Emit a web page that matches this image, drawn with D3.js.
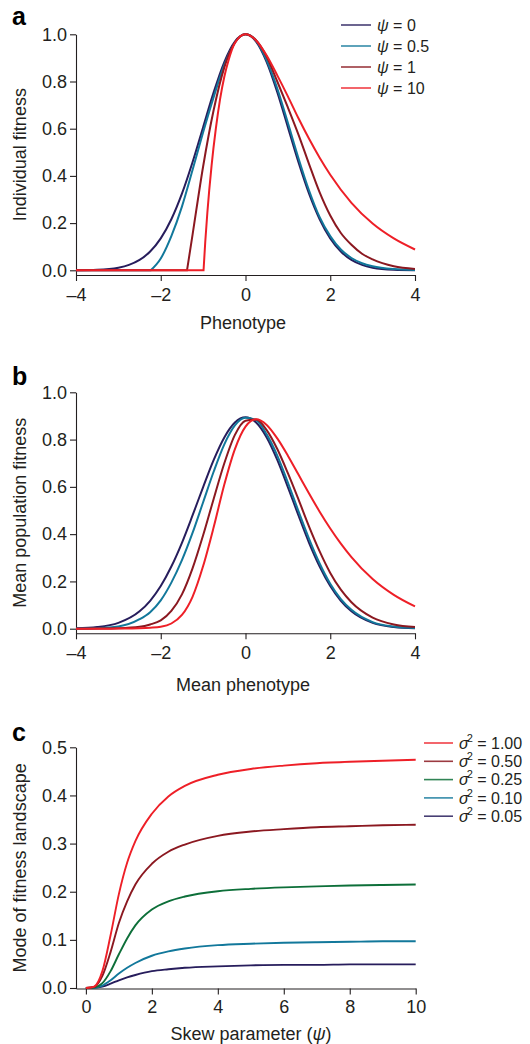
<!DOCTYPE html>
<html>
<head>
<meta charset="utf-8">
<script src="https://cdnjs.cloudflare.com/ajax/libs/d3/7.8.5/d3.min.js"></script>
<style>
  body { margin: 0; background: #fff; }
  svg { font-family: "Liberation Sans", Arial, sans-serif; }
  .axis path, .axis line { stroke: #231f20; stroke-width: 1.1; }
  .axis text { font-size: 18px; fill: #231f20; font-family: "Liberation Sans", Arial, sans-serif; }
  .title { font-size: 18px; fill: #231f20; }
  .letter { font-size: 25px; font-weight: bold; fill: #000; }
  .legend text { font-size: 16px; fill: #231f20; }
</style>
</head>
<body>
<svg id="chart" width="530" height="1044"></svg>
<script>
// panel a: individual fitness vs phenotype, one curve per psi
let aZ0 = [-4,-3.5,-3,-2.75,-2.5,-2.25,-2,-1.75,-1.5,-1.25,-1,-0.75,-0.5,-0.25,0,0.25,0.5,0.75,1,1.25,1.5,1.75,2,2.25,2.5,2.75,3,3.5,4];
let aW0 = [0.0003,0.0022,0.0111,0.0228,0.0439,0.0796,0.1353,0.2163,0.3247,0.4578,0.6065,0.7548,0.8825,0.9692,1,0.9692,0.8825,0.7548,0.6065,0.4578,0.3247,0.2163,0.1353,0.0796,0.0439,0.0228,0.0111,0.0022,0.0003];
let aZ05 = [-2.236,-2,-1.75,-1.5,-1.25,-1,-0.75,-0.5,-0.25,0,0.25,0.5,0.75,1,1.25,1.5,1.75,2,2.25,2.5,2.75,3,3.5,4];
let aW05 = [0,0.05,0.145,0.27,0.425,0.585,0.735,0.87,0.965,1,0.972,0.89,0.77,0.625,0.475,0.338,0.225,0.145,0.088,0.052,0.03,0.017,0.005,0.0012];
let aZ1 = [-1.38,-1.25,-1,-0.75,-0.5,-0.25,0,0.25,0.5,0.75,1,1.25,1.5,1.75,2,2.25,2.5,2.75,3,3.5,4];
let aW1 = [0,0.15,0.44,0.68,0.86,0.965,1,0.975,0.905,0.8,0.69,0.575,0.45,0.33,0.232,0.158,0.108,0.07,0.046,0.017,0.006];
let aZ10 = [-0.99,-0.95,-0.9,-0.8,-0.7,-0.6,-0.5,-0.4,-0.25,0,0.25,0.5,0.75,1,1.25,1.5,1.75,2,2.5,3,3.5,4];
let aW10 = [0,0.12,0.245,0.445,0.6,0.725,0.82,0.89,0.963,1,0.974,0.91,0.826,0.737,0.644,0.557,0.477,0.405,0.286,0.198,0.135,0.088];

// panel b: mean population fitness vs mean phenotype
let bMu = [-4,-3.5,-3,-2.5,-2.25,-2,-1.75,-1.5,-1.25,-1,-0.75,-0.5,-0.25,0,0.25,0.5,0.75,1,1.25,1.5,1.75,2,2.25,2.5,3,3.5,4];
let bW0 = [0.0015,0.0067,0.0244,0.0734,0.118,0.1805,0.263,0.3635,0.479,0.599,0.714,0.809,0.872,0.894,0.872,0.809,0.714,0.599,0.479,0.3635,0.263,0.1805,0.118,0.0734,0.0244,0.0067,0.0015];
let bW05 = [0.0005,0.002,0.009,0.04,0.07,0.12,0.195,0.29,0.405,0.535,0.665,0.78,0.86,0.892,0.882,0.822,0.732,0.618,0.497,0.38,0.276,0.19,0.125,0.08,0.028,0.009,0.0025];
let bW1 = [0,0.0005,0.002,0.008,0.018,0.035,0.075,0.145,0.255,0.395,0.55,0.70,0.82,0.88,0.885,0.84,0.76,0.658,0.547,0.432,0.327,0.236,0.165,0.112,0.047,0.018,0.007];
let bW10 = [0,0,0.0005,0.002,0.004,0.008,0.022,0.058,0.135,0.265,0.43,0.61,0.76,0.855,0.886,0.862,0.805,0.732,0.652,0.572,0.495,0.424,0.36,0.303,0.21,0.143,0.094];

// panel c: mode of fitness landscape vs skew parameter, one curve per sigma^2
let cPsi = [0,0.25,0.5,0.75,1,1.25,1.5,2,2.5,3,4,5,6,7,8,9,10];
let cMode100 = [0,0.003,0.035,0.11,0.195,0.26,0.305,0.362,0.398,0.42,0.443,0.455,0.462,0.467,0.47,0.472,0.474];
let cMode050 = [0,0.002,0.025,0.075,0.135,0.18,0.215,0.258,0.283,0.298,0.316,0.325,0.33,0.334,0.336,0.338,0.339];
let cMode025 = [0,0.001,0.01,0.035,0.07,0.103,0.13,0.163,0.18,0.19,0.201,0.206,0.209,0.211,0.213,0.214,0.215];
let cMode010 = [0,0.0005,0.005,0.016,0.03,0.042,0.052,0.067,0.076,0.082,0.089,0.092,0.094,0.095,0.096,0.097,0.097];
let cMode005 = [0,0.0005,0.003,0.009,0.016,0.022,0.027,0.035,0.039,0.042,0.045,0.047,0.048,0.048,0.049,0.049,0.049];

let psiLabels = ['0', '0.5', '1', '10'];
let sigmaLabels = ['1.00', '0.50', '0.25', '0.10', '0.05'];
let abTicksX = [-4, -2, 0, 2, 4];
let abTicksY = [0, 0.2, 0.4, 0.6, 0.8, 1.0];
let cTicksX = [0, 2, 4, 6, 8, 10];
let cTicksY = [0, 0.1, 0.2, 0.3, 0.4, 0.5];

let col = { navy: '#271d5c', teal: '#12789b', dred: '#8b1820', red: '#ee1f27', green: '#0d6f39' };

let svg = d3.select('#chart');

function minusFmt(d) { return d < 0 ? '\u2013' + Math.abs(d) : String(d); }

function drawPanel(p) {
  let g = svg.append('g');

  g.append('g').attr('class', 'axis')
    .attr('transform', 'translate(0,' + p.axisY + ')')
    .call(d3.axisBottom(p.x).tickValues(p.xTicks).tickFormat(minusFmt)
      .tickSize(6).tickSizeOuter(0).tickPadding(p.xPad));

  // y axis line runs down to the x axis, which may sit a little under 0
  let yAx = p.y.copy().domain([p.y.invert(p.axisY), p.y.domain()[1]]).range([p.axisY, p.y.range()[1]]);
  g.append('g').attr('class', 'axis')
    .attr('transform', 'translate(' + p.x.range()[0] + ',0)')
    .call(d3.axisLeft(yAx).tickValues(p.yTicks).tickFormat(d3.format('.1f'))
      .tickSize(6).tickSizeOuter(0).tickPadding(3));

  let line = d3.line()
    .x(d => p.x(d[0]))
    .y(d => p.y(d[1]))
    .curve(d3.curveMonotoneX);

  p.series.forEach(s => {
    let pts = d3.zip(s.xs, s.ys);
    let d = line(pts);
    let x0 = p.flatFrom;
    if (x0 !== undefined && pts[0][0] > x0) {
      d = 'M' + p.x(x0) + ',' + p.y(pts[0][1]) + 'L' + d.slice(1);
    }
    g.append('path')
      .attr('d', d)
      .attr('fill', 'none')
      .attr('stroke', s.color)
      .attr('stroke-width', p.lw);
  });

  g.append('text').attr('class', 'title')
    .attr('x', p.xTitleX).attr('y', p.xTitleY)
    .attr('text-anchor', 'middle')
    .html(p.xTitle);

  let yMid = (p.axisY + p.y.range()[1]) / 2;
  g.append('text').attr('class', 'title')
    .attr('transform', 'translate(26,' + yMid + ') rotate(-90)')
    .attr('text-anchor', 'middle')
    .text(p.yTitle);

  g.append('text').attr('class', 'letter')
    .attr('x', 12).attr('y', p.letterY)
    .text(p.letter);

  return g;
}

// panel a
let xA = d3.scaleLinear().domain([-4, 4]).range([76, 415]);
let yA = d3.scaleLinear().domain([0, 1]).range([270.3, 34.3]);
let gA = drawPanel({
  x: xA, y: yA, axisY: 275, xTicks: abTicksX, yTicks: abTicksY, xPad: 7, lw: 2,
  flatFrom: -4, letter: 'a', letterY: 25,
  xTitle: 'Phenotype', xTitleX: 243, xTitleY: 329,
  yTitle: 'Individual fitness',
  series: [
    { xs: aZ0, ys: aW0, color: col.navy },
    { xs: aZ05, ys: aW05, color: col.teal },
    { xs: aZ1, ys: aW1, color: col.dred },
    { xs: aZ10, ys: aW10, color: col.red }
  ]
});

let legA = gA.append('g').attr('class', 'legend');
[col.navy, col.teal, col.dred, col.red].forEach((c, i) => {
  let yy = 25 + i * 21;
  legA.append('line').attr('x1', 341).attr('x2', 371).attr('y1', yy).attr('y2', yy)
    .attr('stroke', c).attr('stroke-width', 1.6).attr('opacity', 0.85);
  legA.append('text').attr('x', 377).attr('y', yy).attr('dy', '0.35em')
    .html('<tspan font-style="italic">\u03c8</tspan> = ' + psiLabels[i]);
});

// panel b
let xB = d3.scaleLinear().domain([-4, 4]).range([76, 415]);
let yB = d3.scaleLinear().domain([0, 1]).range([628.7, 392.3]);
drawPanel({
  x: xB, y: yB, axisY: 633.3, xTicks: abTicksX, yTicks: abTicksY, xPad: 7, lw: 2,
  letter: 'b', letterY: 385,
  xTitle: 'Mean phenotype', xTitleX: 243, xTitleY: 691,
  yTitle: 'Mean population fitness',
  series: [
    { xs: bMu, ys: bW0, color: col.navy },
    { xs: bMu, ys: bW05, color: col.teal },
    { xs: bMu, ys: bW1, color: col.dred },
    { xs: bMu, ys: bW10, color: col.red }
  ]
});

// panel c
let xC = d3.scaleLinear().domain([-0.3, 10]).range([76, 415.7]);
let yC = d3.scaleLinear().domain([0, 0.5]).range([988, 747.3]);
let cColors = [col.red, col.dred, col.green, col.teal, col.navy];
let gC = drawPanel({
  x: xC, y: yC, axisY: 988.5, xTicks: cTicksX, yTicks: cTicksY, xPad: 6, lw: 1.9,
  letter: 'c', letterY: 741,
  xTitle: 'Skew parameter (<tspan font-style="italic">\u03c8</tspan>)', xTitleX: 251, xTitleY: 1040,
  yTitle: 'Mode of fitness landscape',
  series: [
    { xs: cPsi, ys: cMode005, color: col.navy },
    { xs: cPsi, ys: cMode010, color: col.teal },
    { xs: cPsi, ys: cMode025, color: col.green },
    { xs: cPsi, ys: cMode050, color: col.dred },
    { xs: cPsi, ys: cMode100, color: col.red }
  ]
});

let legC = gC.append('g').attr('class', 'legend');
sigmaLabels.forEach((lab, i) => {
  let yy = 743 + i * 18.3;
  legC.append('line').attr('x1', 424).attr('x2', 453).attr('y1', yy).attr('y2', yy)
    .attr('stroke', cColors[i]).attr('stroke-width', 1.6).attr('opacity', 0.85);
  legC.append('text').attr('x', 459).attr('y', yy).attr('dy', '0.35em')
    .html('<tspan font-style="italic">\u03c3</tspan><tspan dx="-2" dy="-7" font-size="11">2</tspan><tspan dy="7"> = ' + lab + '</tspan>');
});
</script>
</body>
</html>
